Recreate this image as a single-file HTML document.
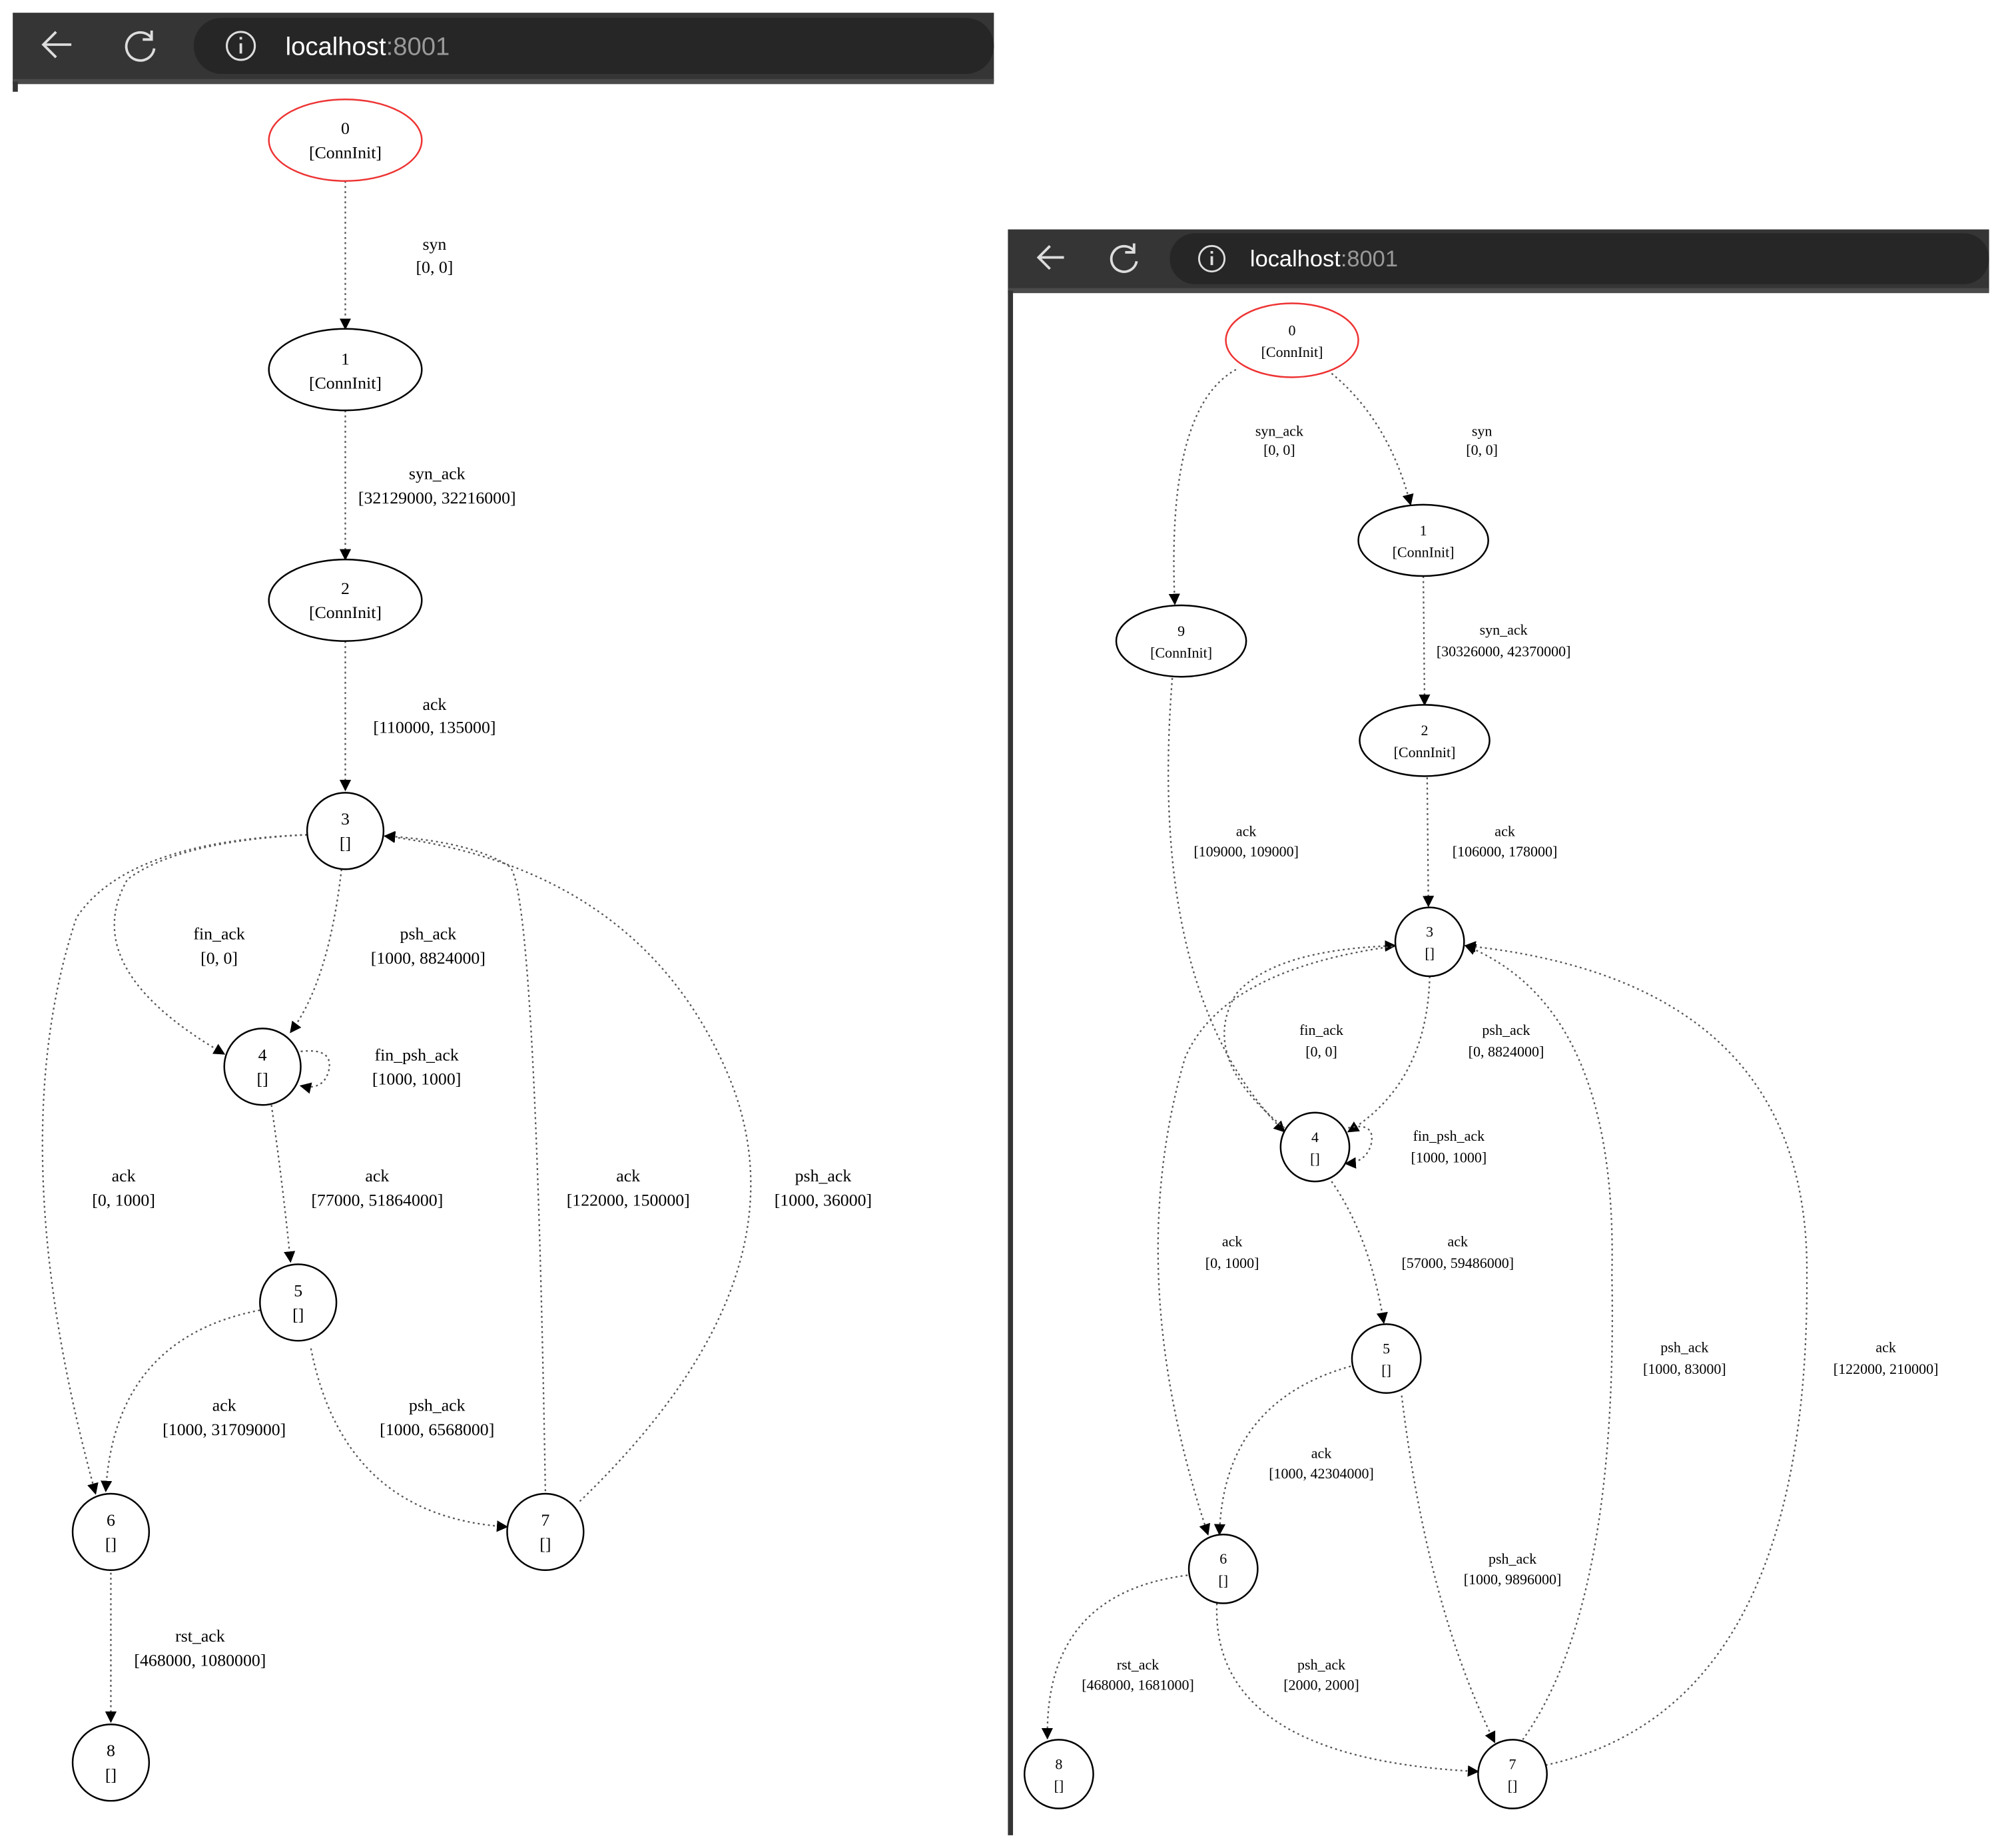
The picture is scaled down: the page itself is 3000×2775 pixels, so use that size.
<!DOCTYPE html>
<html><head><meta charset="utf-8"><style>
html,body{margin:0;padding:0;background:#fff;width:3000px;height:2775px;overflow:hidden}
svg{display:block}
text{font-family:"Liberation Serif",serif;fill:#000}
.l text{font-size:13.5px}
.r text{font-size:11.5px}
.e{fill:none;stroke:#555;stroke-width:1.2;stroke-dasharray:1.5 2.5}
.n{fill:#fff;stroke:#000;stroke-width:1.3}
.red{stroke:#e33}
.u{font-family:"Liberation Sans",sans-serif;fill:#fff}
</style></head><body>
<svg width="3000" height="2775" viewBox="0 0 1568 1450" preserveAspectRatio="none">
<defs><marker id="a" viewBox="0 0 10 10" refX="9" refY="5" markerWidth="9" markerHeight="9" orient="auto" markerUnits="userSpaceOnUse"><path d="M0,0L10,5L0,10z" fill="#000"/></marker></defs>
<rect x="10" y="10" width="770" height="54" fill="#353535"/>
<rect x="10" y="62" width="770" height="4" fill="#4a4a4a"/>
<rect x="10" y="64" width="4" height="8" fill="#353535"/>
<rect x="152" y="14" width="628" height="44" rx="22" fill="#262626"/>
<path d="M56,35H34M44,25L34,35L44,45" stroke="#ddd" stroke-width="2" fill="none"/>
<path d="M119,30A11,11 0 1 0 121,38M119,24V31H112" stroke="#ddd" stroke-width="2" fill="none"/>
<circle cx="189" cy="36" r="11" stroke="#ddd" stroke-width="1.6" fill="none"/><rect x="188" y="34" width="2" height="8" fill="#ddd"/><rect x="188" y="29" width="2" height="2" fill="#ddd"/>
<text x="224" y="43" class="u" font-size="20">localhost<tspan fill="#999">:8001</tspan></text>
<rect x="791" y="180" width="770" height="48" fill="#353535"/>
<rect x="791" y="226" width="770" height="4" fill="#4a4a4a"/>
<rect x="791" y="228" width="4" height="1212" fill="#353535"/>
<rect x="918" y="183" width="643" height="40" rx="20" fill="#262626"/>
<path d="M835,202H815M824,193L815,202L824,211" stroke="#ddd" stroke-width="2" fill="none"/>
<path d="M890,197A10,10 0 1 0 892,205M890,191V198H883" stroke="#ddd" stroke-width="2" fill="none"/>
<circle cx="951" cy="203" r="10" stroke="#ddd" stroke-width="1.5" fill="none"/><rect x="950" y="201" width="2" height="7" fill="#ddd"/><rect x="950" y="197" width="2" height="2" fill="#ddd"/>
<text x="981" y="209" class="u" font-size="18">localhost<tspan fill="#999">:8001</tspan></text>

<g class="l">
<g class="e" marker-end="url(#a)">
<path d="M271,142L271,258"/>
<path d="M271,322L271,439"/>
<path d="M271,503L271,620"/>
<path d="M268,682Q258,770 228,810"/>
<path d="M241,655Q140,660 100,690Q60,760 176,827"/>
<path d="M236,825Q262,822 258,840Q254,856 236,852"/>
<path d="M213,867Q222,930 228,990"/>
<path d="M241,655Q100,660 60,720Q0,900 75,1172"/>
<path d="M428,1170Q420,700 400,680Q370,660 302,656"/>
<path d="M455,1178Q640,1000 570,840Q500,680 302,656"/>
<path d="M204,1028Q90,1050 83,1170"/>
<path d="M244,1058Q270,1190 398,1198"/>
<path d="M87,1234L87,1351"/>
</g>
<ellipse cx="271" cy="110" rx="60" ry="32" class="n red"/>
<ellipse cx="271" cy="290" rx="60" ry="32" class="n"/>
<ellipse cx="271" cy="471" rx="60" ry="32" class="n"/>
<circle cx="271" cy="652" r="30" class="n"/>
<circle cx="206" cy="837" r="30" class="n"/>
<circle cx="234" cy="1022" r="30" class="n"/>
<circle cx="87" cy="1202" r="30" class="n"/>
<circle cx="428" cy="1202" r="30" class="n"/>
<circle cx="87" cy="1383" r="30" class="n"/>
<g text-anchor="middle">
<text x="271" y="105">0</text><text x="271" y="124">[ConnInit]</text>
<text x="271" y="286">1</text><text x="271" y="305">[ConnInit]</text>
<text x="271" y="466">2</text><text x="271" y="485">[ConnInit]</text>
<text x="271" y="647">3</text><text x="271" y="666">[]</text>
<text x="206" y="832">4</text><text x="206" y="851">[]</text>
<text x="234" y="1017">5</text><text x="234" y="1036">[]</text>
<text x="87" y="1197">6</text><text x="87" y="1216">[]</text>
<text x="428" y="1197">7</text><text x="428" y="1216">[]</text>
<text x="87" y="1378">8</text><text x="87" y="1397">[]</text>
<text x="341" y="196">syn</text><text x="341" y="214">[0, 0]</text>
<text x="343" y="376">syn_ack</text><text x="343" y="395">[32129000, 32216000]</text>
<text x="341" y="557">ack</text><text x="341" y="575">[110000, 135000]</text>
<text x="336" y="737">psh_ack</text><text x="336" y="756">[1000, 8824000]</text>
<text x="172" y="737">fin_ack</text><text x="172" y="756">[0, 0]</text>
<text x="327" y="832">fin_psh_ack</text><text x="327" y="851">[1000, 1000]</text>
<text x="97" y="927">ack</text><text x="97" y="946">[0, 1000]</text>
<text x="296" y="927">ack</text><text x="296" y="946">[77000, 51864000]</text>
<text x="493" y="927">ack</text><text x="493" y="946">[122000, 150000]</text>
<text x="646" y="927">psh_ack</text><text x="646" y="946">[1000, 36000]</text>
<text x="176" y="1107">ack</text><text x="176" y="1126">[1000, 31709000]</text>
<text x="343" y="1107">psh_ack</text><text x="343" y="1126">[1000, 6568000]</text>
<text x="157" y="1288">rst_ack</text><text x="157" y="1307">[468000, 1080000]</text>
</g></g>

<g class="r">
<g class="e" marker-end="url(#a)">
<path d="M1045,293Q1090,330 1107,396"/>
<path d="M970,290Q915,320 922,474"/>
<path d="M1117,452L1118,553"/>
<path d="M1120,610L1121,711"/>
<path d="M920,532Q900,780 1008,888"/>
<path d="M1122,766Q1120,850 1058,888"/>
<path d="M1008,885Q940,830 970,780Q1000,745 1095,742"/>
<path d="M1058,885Q1080,880 1076,898Q1072,912 1056,913"/>
<path d="M1045,927Q1075,970 1086,1038"/>
<path d="M1097,742Q960,760 930,830Q880,1000 948,1204"/>
<path d="M1195,1365Q1270,1260 1265,1000Q1270,790 1150,742"/>
<path d="M1213,1385Q1420,1340 1418,1000Q1420,770 1150,742"/>
<path d="M1060,1072Q960,1100 957,1204"/>
<path d="M1100,1095Q1120,1260 1173,1367"/>
<path d="M955,1258Q950,1380 1160,1390"/>
<path d="M932,1236Q820,1250 822,1364"/>
</g>
<ellipse cx="1014" cy="267" rx="52" ry="29" class="n red"/>
<ellipse cx="1117" cy="424" rx="51" ry="28" class="n"/>
<ellipse cx="927" cy="503" rx="51" ry="28" class="n"/>
<ellipse cx="1118" cy="581" rx="51" ry="28" class="n"/>
<circle cx="1122" cy="739" r="27" class="n"/>
<circle cx="1032" cy="900" r="27" class="n"/>
<circle cx="1088" cy="1066" r="27" class="n"/>
<circle cx="960" cy="1231" r="27" class="n"/>
<circle cx="1187" cy="1392" r="27" class="n"/>
<circle cx="831" cy="1392" r="27" class="n"/>
<g text-anchor="middle">
<text x="1014" y="263">0</text><text x="1014" y="280">[ConnInit]</text>
<text x="1117" y="420">1</text><text x="1117" y="437">[ConnInit]</text>
<text x="927" y="499">9</text><text x="927" y="516">[ConnInit]</text>
<text x="1118" y="577">2</text><text x="1118" y="594">[ConnInit]</text>
<text x="1122" y="735">3</text><text x="1122" y="752">[]</text>
<text x="1032" y="896">4</text><text x="1032" y="913">[]</text>
<text x="1088" y="1062">5</text><text x="1088" y="1079">[]</text>
<text x="960" y="1227">6</text><text x="960" y="1244">[]</text>
<text x="1187" y="1388">7</text><text x="1187" y="1405">[]</text>
<text x="831" y="1388">8</text><text x="831" y="1405">[]</text>
<text x="1163" y="342">syn</text><text x="1163" y="357">[0, 0]</text>
<text x="1004" y="342">syn_ack</text><text x="1004" y="357">[0, 0]</text>
<text x="1180" y="498">syn_ack</text><text x="1180" y="515">[30326000, 42370000]</text>
<text x="1181" y="656">ack</text><text x="1181" y="672">[106000, 178000]</text>
<text x="978" y="656">ack</text><text x="978" y="672">[109000, 109000]</text>
<text x="1182" y="812">psh_ack</text><text x="1182" y="829">[0, 8824000]</text>
<text x="1037" y="812">fin_ack</text><text x="1037" y="829">[0, 0]</text>
<text x="1137" y="895">fin_psh_ack</text><text x="1137" y="912">[1000, 1000]</text>
<text x="1144" y="978">ack</text><text x="1144" y="995">[57000, 59486000]</text>
<text x="967" y="978">ack</text><text x="967" y="995">[0, 1000]</text>
<text x="1322" y="1061">psh_ack</text><text x="1322" y="1078">[1000, 83000]</text>
<text x="1480" y="1061">ack</text><text x="1480" y="1078">[122000, 210000]</text>
<text x="1037" y="1144">ack</text><text x="1037" y="1160">[1000, 42304000]</text>
<text x="1187" y="1227">psh_ack</text><text x="1187" y="1243">[1000, 9896000]</text>
<text x="1037" y="1310">psh_ack</text><text x="1037" y="1326">[2000, 2000]</text>
<text x="893" y="1310">rst_ack</text><text x="893" y="1326">[468000, 1681000]</text>
</g></g>
</svg>
</body></html>
